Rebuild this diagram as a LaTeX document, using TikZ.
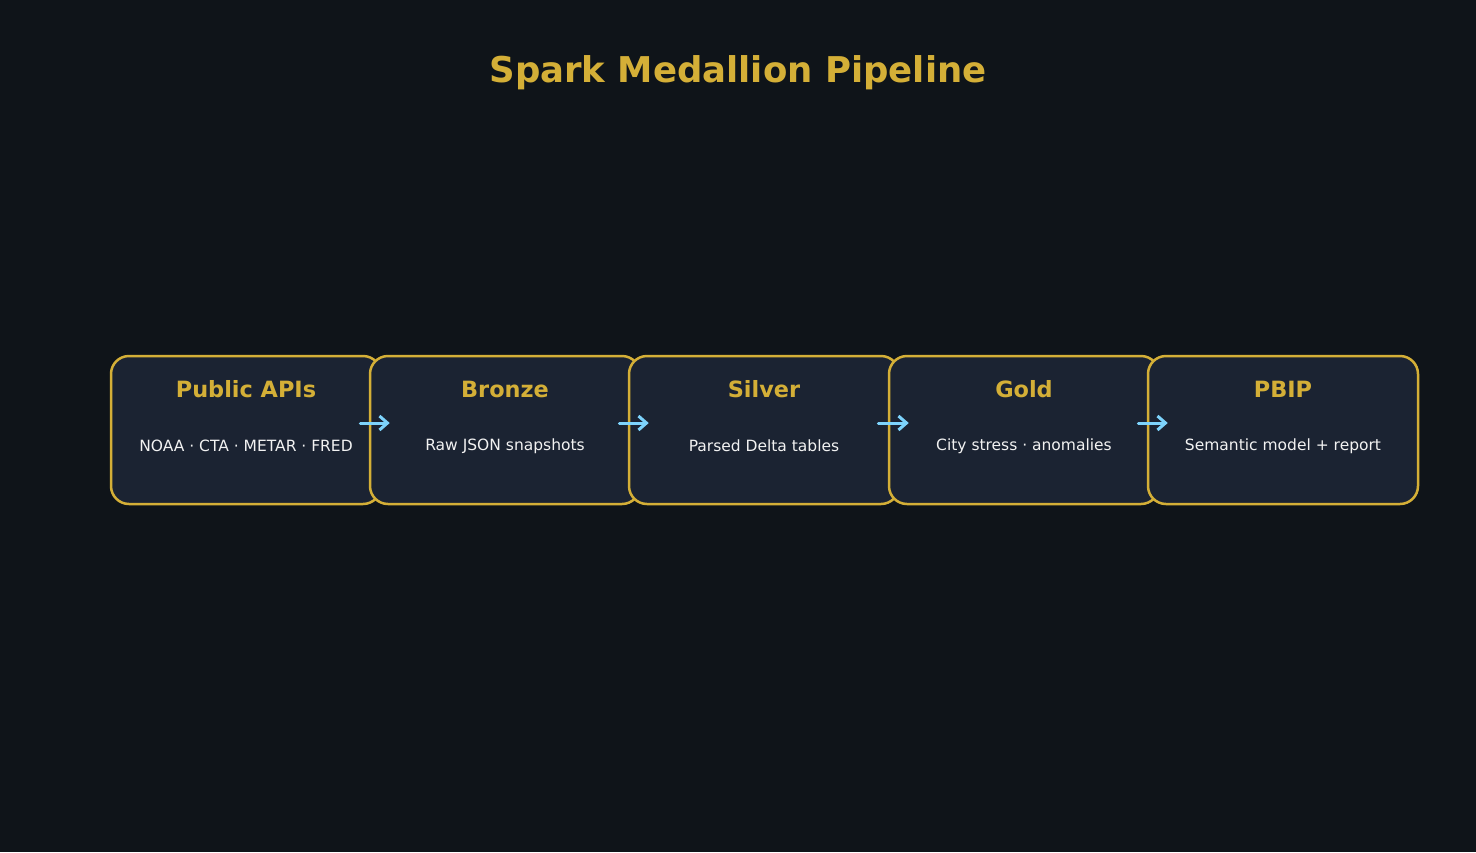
\documentclass[tikz,border=0pt]{standalone}
\usepackage{fontspec}
\setmainfont{DejaVu Sans}
\usepackage{xcolor}
\usetikzlibrary{arrows.meta}
\definecolor{bgdark}{HTML}{0F1419}
\definecolor{boxfill}{HTML}{1B2332}
\definecolor{gold}{HTML}{D4AF37}
\definecolor{skyblue}{HTML}{7DD3FC}
\definecolor{softwhite}{HTML}{F2F2F2}

\begin{document}
\begin{tikzpicture}[x=1pt, y=-1pt, thick]
  \tikzstyle{stage}=[rectangle, draw=gold, fill=boxfill, rounded corners=18pt,
                     line width=2.5pt, minimum width=270pt, minimum height=148pt]
  \tikzstyle{stitle}=[text=gold, font=\fontsize{22.4}{27}\selectfont\bfseries]
  \tikzstyle{ssub}=[text=softwhite, font=\fontsize{15.5}{19}\selectfont]
  \tikzstyle{arr}=[-{Straight Barb[length=8pt, width=14pt]}, line width=3pt,
                   skyblue, line cap=round]

  \fill[bgdark] (0,0) rectangle (1476,852);
  \useasboundingbox (0,0) rectangle (1476,852);

  \node[text=gold, font=\fontsize{35.5}{42}\selectfont\bfseries] (title) at (738,73)
       {Spark Medallion Pipeline};

  % stages
  \node[stage] (apis)   at ( 246,430) {};
  \node[stage] (bronze) at ( 505,430) {};
  \node[stage] (silver) at ( 764,430) {};
  \node[stage] (gold)   at (1024,430) {};
  \node[stage] (pbip)   at (1283,430) {};

  \node[stitle] (apist)   at ( 246,389) {Public APIs};
  \node[stitle] (bronzet) at ( 505,389) {Bronze};
  \node[stitle] (silvert) at ( 764,389) {Silver};
  \node[stitle] (goldt)   at (1024,389) {Gold};
  \node[stitle] (pbipt)   at (1283,389) {PBIP};

  \node[ssub] (apiss)   at ( 246,446) {NOAA · CTA · METAR · FRED};
  \node[ssub] (bronzes) at ( 505,446) {Raw JSON snapshots};
  \node[ssub] (silvers) at ( 764,446) {Parsed Delta tables};
  \node[ssub] (golds)   at (1024,446) {City stress · anomalies};
  \node[ssub] (pbips)   at (1283,446) {Semantic model + report};

  \draw[arr] ([xshift=-22pt, yshift=7pt]apis.east)   -- ([xshift=21pt, yshift=7pt]bronze.west);
  \draw[arr] ([xshift=-22pt, yshift=7pt]bronze.east) -- ([xshift=21pt, yshift=7pt]silver.west);
  \draw[arr] ([xshift=-22pt, yshift=7pt]silver.east) -- ([xshift=21pt, yshift=7pt]gold.west);
  \draw[arr] ([xshift=-22pt, yshift=7pt]gold.east)   -- ([xshift=21pt, yshift=7pt]pbip.west);
\end{tikzpicture}
\end{document}
